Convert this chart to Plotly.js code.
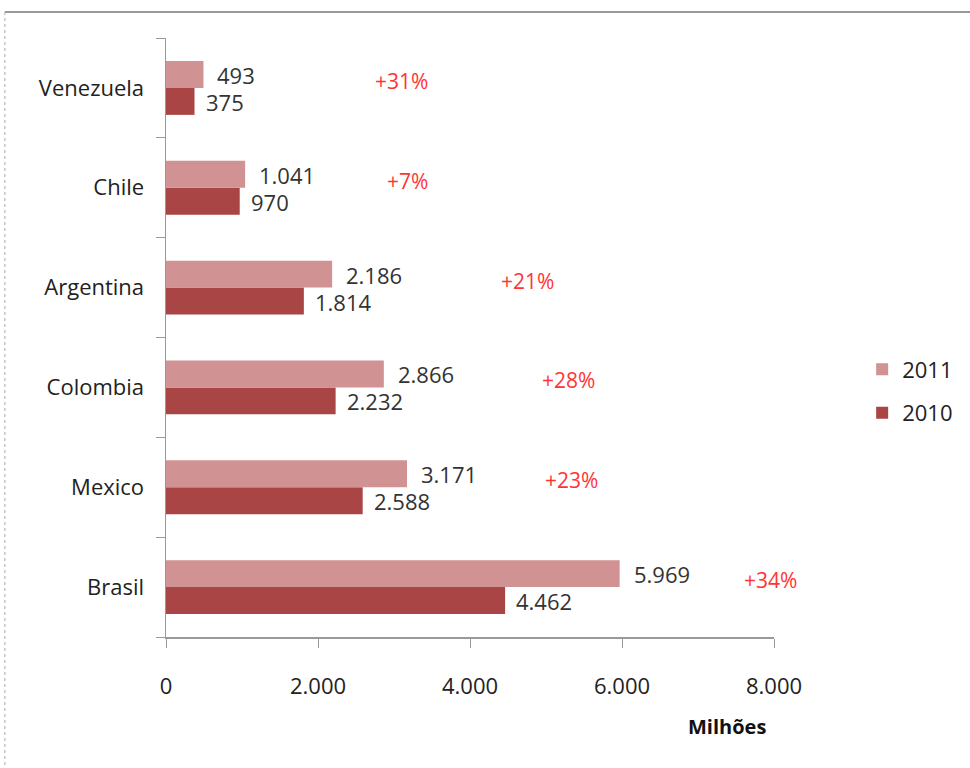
<!DOCTYPE html>
<html><head><meta charset="utf-8">
<script src="https://cdn.plot.ly/plotly-3.0.1.min.js"></script>
<style>body{margin:0;background:#fff}#chart{width:970px;height:768px}</style>
</head><body><div id="chart"></div>
<script>
const countries = ["Brasil", "Mexico", "Colombia", "Argentina", "Chile", "Venezuela"];
const values2010 = [4462, 2588, 2232, 1814, 970, 375];
const values2011 = [5969, 3171, 2866, 2186, 1041, 493];
const growthText = ["+34%", "+23%", "+28%", "+21%", "+7%", "+31%"];
const growthLabelX = [7950, 5330, 5300, 4760, 3180, 3100];
const xTicks = [0, 2000, 4000, 6000, 8000];

const FONT = "Open Sans, Liberation Sans, sans-serif";
const labelFont = {family: FONT, size: 22, color: "#333"};

const traces = [
  {type: "bar", orientation: "h", name: "2010", legendgroup: "g2010", legendrank: 2, y: countries, x: values2010,
   marker: {color: "#A94544"}, hoverinfo: "x"},
  {type: "bar", orientation: "h", name: "2011", legendgroup: "g2011", legendrank: 1, y: countries, x: values2011,
   marker: {color: "#D09292"}, hoverinfo: "x"}
];

const annotations = [];
countries.forEach((c, i) => {
  annotations.push({x: values2011[i], y: c, xref: "x", yref: "y", text: values2011[i].toLocaleString("de-DE"),
    showarrow: false, xanchor: "left", xshift: 12, yshift: 13, font: labelFont});
  annotations.push({x: values2010[i], y: c, xref: "x", yref: "y", text: values2010[i].toLocaleString("de-DE"),
    showarrow: false, xanchor: "left", xshift: 9, yshift: -14, font: labelFont});
  annotations.push({x: growthLabelX[i], y: c, xref: "x", yref: "y", text: growthText[i],
    showarrow: false, xanchor: "center", yshift: 7, font: {family: FONT, size: 21, color: "#FF3535"}});
});
annotations.push({x: 0.922, y: -0.15, xref: "paper", yref: "paper", text: "<b>Milhões</b>", showarrow: false,
  xanchor: "center", yanchor: "middle", font: {family: FONT, size: 20, color: "#111"}});

const layout = {
  width: 970, height: 768,
  margin: {l: 166, r: 196, t: 38, b: 131, autoexpand: false},
  paper_bgcolor: "#fff", plot_bgcolor: "#fff",
  separators: ",.",
  barmode: "group", bargap: 0.46, bargroupgap: 0,
  showlegend: true,
  legend: {x: 1.145, y: 0.41, xanchor: "left", yanchor: "middle", traceorder: "grouped",
    font: {family: FONT, size: 22, color: "#222"}, itemwidth: 30, tracegroupgap: 12},
  xaxis: {range: [0, 8000], tickvals: xTicks, tickformat: ",d", showgrid: false, zeroline: false,
    showline: true, linecolor: "#999", linewidth: 1.5, ticks: "outside", ticklen: 9, tickcolor: "#999",
    ticklabelstandoff: 20, tickfont: {family: FONT, size: 22, color: "#222"}},
  yaxis: {type: "category", showgrid: false, zeroline: false, showline: true, linecolor: "#999", linewidth: 1.5,
    ticks: "outside", ticklen: 9, tickcolor: "#999", tickson: "boundaries", ticklabelstandoff: 16,
    tickfont: {family: FONT, size: 22, color: "#222"}},
  annotations: annotations,
  shapes: [
    {type: "line", xref: "paper", yref: "paper", x0: -0.265, x1: 1.4, y0: 1.0434, y1: 1.0434,
     line: {color: "#999", width: 2}},
    {type: "line", xref: "paper", yref: "paper", x0: -0.265, x1: -0.265, y0: 1.0434, y1: -0.23,
     line: {color: "#aaa", width: 1, dash: "dot"}}
  ]
};

Plotly.newPlot("chart", traces, layout, {displayModeBar: false, staticPlot: true});
</script></body></html>
